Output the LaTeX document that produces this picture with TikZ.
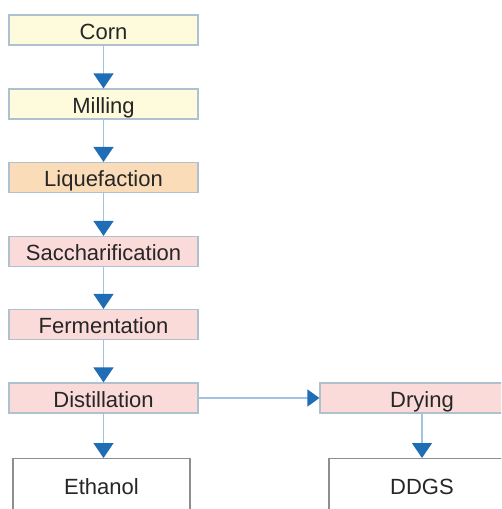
\documentclass[tikz,border=0pt]{standalone}
\usepackage{fontspec}
\setmainfont{Liberation Sans}
\usetikzlibrary{arrows.meta}
\definecolor{lineblue}{HTML}{9FC3E2}
\definecolor{tipblue}{HTML}{1F6DB4}
\definecolor{boxedge}{HTML}{AFC0CE}
\definecolor{yelfill}{HTML}{FDFBDB}
\definecolor{orafill}{HTML}{FADDB8}
\definecolor{pinkfill}{HTML}{FBDADA}
\definecolor{txtgray}{HTML}{262626}
\definecolor{outedge}{HTML}{8E8E8E}
\tikzset{
  stepbox/.style={draw=boxedge, line width=1.2pt, minimum height=30pt, inner sep=0pt,
    font=\fontsize{22}{24}\selectfont, text=txtgray, text height=20pt, text depth=2pt},
  outbox/.style={draw=outedge, line width=1.2pt, fill=white, minimum height=70pt, inner sep=0pt},
  outlabel/.style={font=\fontsize{22}{24}\selectfont, text=txtgray, anchor=base, inner sep=0pt},
  flow/.style={draw=lineblue, line width=1.4pt,
    -{Triangle[width=20pt,length=15pt,fill=tipblue,color=tipblue]}}
}
\begin{document}
\begin{tikzpicture}[x=1pt,y=-1pt]
\useasboundingbox (0,0) rectangle (501,509);
\clip (0,0) rectangle (501,509);
\node[stepbox, fill=yelfill, minimum width=189pt] (corn) at (103.5,30) {Corn};
\node[stepbox, fill=yelfill, minimum width=189pt] (mill) at (103.5,104) {Milling};
\node[stepbox, fill=orafill, minimum width=189pt] (liq) at (103.5,177.5) {Liquefaction};
\node[stepbox, fill=pinkfill, minimum width=189pt] (sac) at (103.5,251.5) {Saccharification};
\node[stepbox, fill=pinkfill, minimum width=189pt] (fer) at (103.5,324.5) {Fermentation};
\node[stepbox, fill=pinkfill, minimum width=189pt] (dis) at (103.5,398) {Distillation};
\node[stepbox, fill=pinkfill, minimum width=204pt] (dry) at (422,398) {Drying};
\node[outbox, minimum width=177pt, anchor=north] (eth) at (101.5,458) {};
\node[outlabel] (ethl) at (101.5,494) {Ethanol};
\node[outbox, minimum width=186pt, anchor=north] (ddgs) at (422,458) {};
\node[outlabel] (ddgsl) at (422,494) {DDGS};
\draw[flow] (corn) -- (mill);
\draw[flow] (mill) -- (liq);
\draw[flow] (liq) -- (sac);
\draw[flow] (sac) -- (fer);
\draw[flow] (fer) -- (dis);
\draw[flow] (dis) -- (eth.north -| dis);
\draw[flow] (dry) -- (ddgs.north -| dry);
\draw[draw=lineblue, line width=1.4pt,
    -{Triangle[width=17pt,length=12pt,fill=tipblue,color=tipblue]}] (dis) -- (dry);
\end{tikzpicture}
\end{document}
